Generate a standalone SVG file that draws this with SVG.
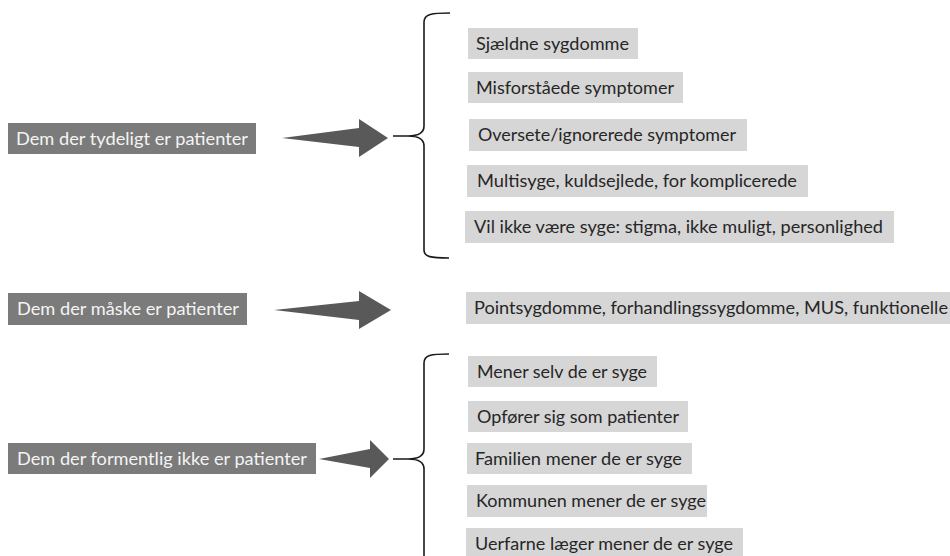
<svg xmlns="http://www.w3.org/2000/svg" width="950" height="556" viewBox="0 0 950 556">
  <style>
    .cat rect { fill: #7b7b7b; }
    .cat text { fill: #f4f4f4; font-family: Lato, "Liberation Sans", sans-serif; font-size: 18px; }
    .item rect { fill: #d6d6d6; }
    .item text { fill: #262626; font-family: Lato, "Liberation Sans", sans-serif; font-size: 18px; }
    .arrow { fill: #595959; }
    .brace { fill: none; stroke: #1a1a1a; stroke-width: 1.6; }
  </style>
  <rect width="950" height="556" fill="#ffffff"/>

  <!-- category boxes -->
  <g id="cat-tydeligt" class="cat">
    <rect x="8" y="123" width="248" height="31"/>
    <text x="16" y="145" textLength="232" lengthAdjust="spacingAndGlyphs">Dem der tydeligt er patienter</text>
  </g>
  <g id="cat-maaske" class="cat">
    <rect x="8" y="293" width="239" height="32"/>
    <text x="17" y="315" textLength="222" lengthAdjust="spacingAndGlyphs">Dem der måske er patienter</text>
  </g>
  <g id="cat-formentlig" class="cat">
    <rect x="8" y="443" width="308" height="31"/>
    <text x="17" y="465" textLength="290" lengthAdjust="spacingAndGlyphs">Dem der formentlig ikke er patienter</text>
  </g>

  <!-- connectors: block arrows and braces -->
  <g id="connectors">
    <path class="arrow" d="M282,138 L359,128 L359,119 L388,138 L359,157 L359,147 Z"/>
    <path class="arrow" d="M274,310 L359,301 L359,291 L391,310 L359,329 L359,320 Z"/>
    <path class="arrow" d="M319,459 L370,449 L370,440 L389,459 L370,478 L370,468 Z"/>

    <path class="brace" d="M450,13 C432,13 424,14 424,22 L424,126 C424,133 418,136 408,136 L393,136 M408,136 C418,136 424,139 424,146 L424,250 C424,257 431,258 449,258"/>
    <path class="brace" d="M449,354 C431,354 424,355 424,363 L424,449 C424,456 418,459 408,459 L393,459 M408,459 C418,459 424,462 424,469 L424,570"/>
  </g>

  <!-- items: clearly patients -->
  <g id="item-sjaeldne" class="item">
    <rect x="468" y="28" width="170" height="31"/>
    <text x="476" y="50" textLength="153" lengthAdjust="spacingAndGlyphs">Sjældne sygdomme</text>
  </g>
  <g id="item-misforstaaede" class="item">
    <rect x="468" y="72" width="215" height="31"/>
    <text x="476" y="94" textLength="198" lengthAdjust="spacingAndGlyphs">Misforståede symptomer</text>
  </g>
  <g id="item-oversete" class="item">
    <rect x="469" y="119" width="278" height="32"/>
    <text x="478" y="141" textLength="258" lengthAdjust="spacingAndGlyphs">Oversete/ignorerede symptomer</text>
  </g>
  <g id="item-multisyge" class="item">
    <rect x="467" y="165" width="341" height="32"/>
    <text x="477" y="187" textLength="320" lengthAdjust="spacingAndGlyphs">Multisyge, kuldsejlede, for komplicerede</text>
  </g>
  <g id="item-vil-ikke" class="item">
    <rect x="465" y="211" width="429" height="32"/>
    <text x="474" y="233" textLength="409" lengthAdjust="spacingAndGlyphs">Vil ikke være syge: stigma, ikke muligt, personlighed</text>
  </g>

  <!-- items: maybe patients -->
  <g id="item-pointsygdomme" class="item">
    <rect x="466" y="292" width="490" height="32"/>
    <text x="474" y="314" textLength="474" lengthAdjust="spacingAndGlyphs">Pointsygdomme, forhandlingssygdomme, MUS, funktionelle</text>
  </g>

  <!-- items: probably not patients -->
  <g id="item-mener-selv" class="item">
    <rect x="468" y="356" width="189" height="31"/>
    <text x="477" y="378" textLength="170" lengthAdjust="spacingAndGlyphs">Mener selv de er syge</text>
  </g>
  <g id="item-opfoerer" class="item">
    <rect x="468" y="401" width="220" height="31"/>
    <text x="477" y="423" textLength="202" lengthAdjust="spacingAndGlyphs">Opfører sig som patienter</text>
  </g>
  <g id="item-familien" class="item">
    <rect x="467" y="443" width="225" height="31"/>
    <text x="475" y="465" textLength="207" lengthAdjust="spacingAndGlyphs">Familien mener de er syge</text>
  </g>
  <g id="item-kommunen" class="item">
    <rect x="467" y="485" width="240" height="32"/>
    <text x="476" y="507" textLength="230" lengthAdjust="spacingAndGlyphs">Kommunen mener de er syge</text>
  </g>
  <g id="item-uerfarne" class="item">
    <rect x="466" y="528" width="277" height="34"/>
    <text x="475" y="550" textLength="258" lengthAdjust="spacingAndGlyphs">Uerfarne læger mener de er syge</text>
  </g>
</svg>
